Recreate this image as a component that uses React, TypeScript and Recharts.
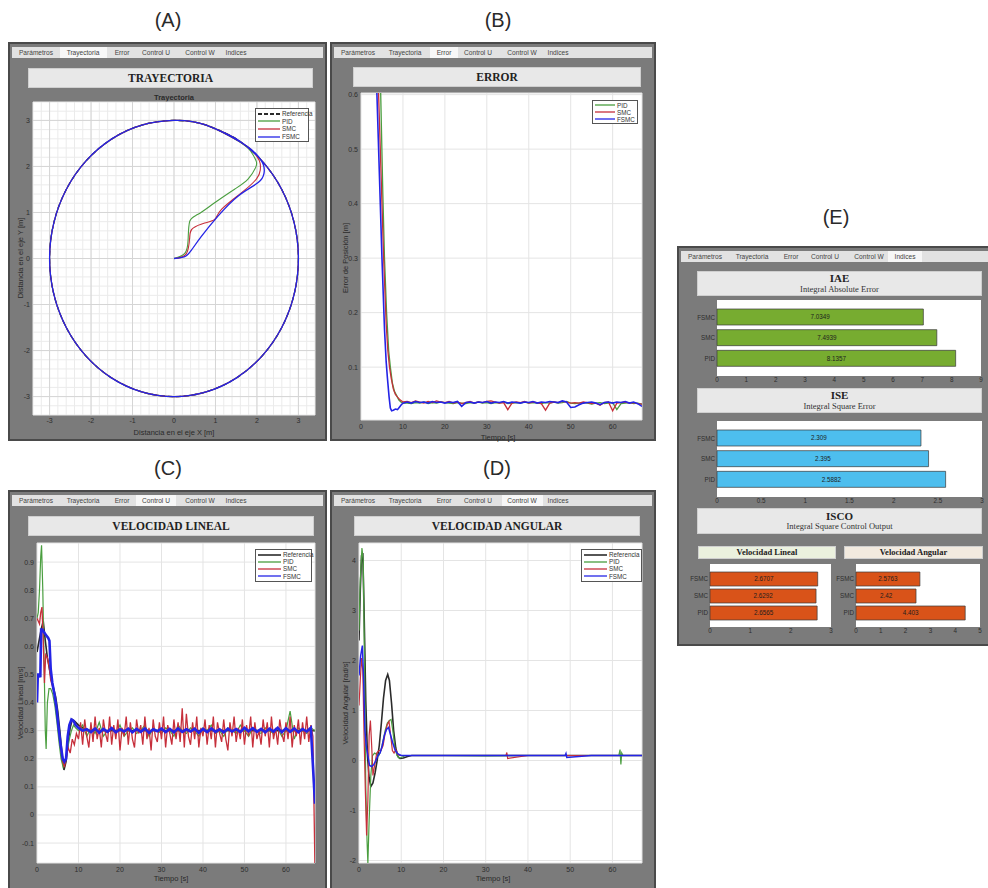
import React from 'react'
import { Bar, BarChart, CartesianGrid, LabelList, Line, LineChart, ReferenceLine, XAxis, YAxis } from 'recharts'

const REF = '#2b2b2b'
const PID = '#4a9e3f'
const SMC = '#c62f3b'
const FSMC = '#2424e6'
const PANEL = '#7b7b7b'
const SANS = '"Liberation Sans", Arial, sans-serif'
const SERIF = '"Liberation Serif", "Times New Roman", serif'

const TABS = ['Parámetros', 'Trayectoria', 'Error', 'Control U', 'Control W', 'Indices']

// ---------- (A) trayectoria
const ticksA = [-3.4, -3.2, -3, -2.8, -2.6, -2.4, -2.2, -2, -1.8, -1.6, -1.4, -1.2, -1, -0.8, -0.6, -0.4, -0.2, 0,
  0.2, 0.4, 0.6, 0.8, 1, 1.2, 1.4, 1.6, 1.8, 2, 2.2, 2.4, 2.6, 2.8, 3, 3.2, 3.4]
const majorA = [-3, -2, -1, 0, 1, 2, 3]

const refCircle: [number, number][] = [
  [1.5, 2.598], [0.776, 2.898], [0, 3], [-0.776, 2.898], [-1.5, 2.598], [-2.121, 2.121], [-2.598, 1.5],
  [-2.898, 0.776], [-3, 0], [-2.898, -0.776], [-2.598, -1.5], [-2.121, -2.121], [-1.5, -2.598], [-0.776, -2.898],
  [0, -3], [0.776, -2.898], [1.5, -2.598], [2.121, -2.121], [2.598, -1.5], [2.898, -0.776], [3, 0],
  [2.898, 0.776], [2.598, 1.5], [2.121, 2.121], [1.5, 2.598], [0.776, 2.898],
]
const pidPath: [number, number][] = [
  [0, 0], [0.26, 0.11], [0.34, 0.4], [0.38, 0.81], [0.58, 0.96], [0.98, 1.21], [1.47, 1.51], [1.79, 1.73],
  [1.97, 1.98], [1.98, 2.12], [1.85, 2.33], [1.55, 2.55],
]
const smcPath: [number, number][] = [
  [0, 0], [0.3, 0.11], [0.38, 0.48], [0.46, 0.66], [0.74, 0.77], [0.98, 0.85], [1.15, 1.07], [1.63, 1.43],
  [1.99, 1.73], [2.08, 1.92], [2.06, 2.12], [1.9, 2.33], [1.58, 2.54],
]
const fsmcPath: [number, number][] = [
  [0, 0], [0.26, 0.04], [0.42, 0.18], [0.66, 0.48], [1.06, 0.92], [1.55, 1.36], [2.03, 1.65], [2.17, 1.85],
  [2.15, 2.05], [1.97, 2.28], [1.62, 2.52],
]

// ---------- (B) error
const errTicksX = [0, 10, 20, 30, 40, 50, 60]
const errTicksY = [0.1, 0.2, 0.3, 0.4, 0.5, 0.6]
const errPidT = [0, 1, 2, 3, 4.7, 5.2, 5.6, 6.1, 6.6, 7.0, 7.5, 8.0, 8.5, 9.0, 9.5, 10]
const errPidV = [2.9, 2.1, 1.5, 1.05, 0.6, 0.42, 0.3, 0.2, 0.13, 0.1, 0.07, 0.055, 0.048, 0.04, 0.036, 0.034]
const errPidSteady = [
  0.034, 0.033, 0.035, 0.034, 0.036, 0.033, 0.035, 0.034, 0.036, 0.035,
  0.034, 0.033, 0.035, 0.034, 0.033, 0.035, 0.034, 0.036, 0.034, 0.035,
  0.033, 0.035, 0.034, 0.036, 0.033, 0.034, 0.035, 0.034, 0.036, 0.034,
  0.035, 0.034, 0.033, 0.035, 0.034, 0.036, 0.034, 0.035, 0.037, 0.034,
  0.033, 0.034, 0.035, 0.034, 0.032, 0.034, 0.035, 0.033, 0.034, 0.035,
  0.022, 0.033, 0.034, 0.035, 0.033, 0.034, 0.032,
]
const errSmcT = [0, 1, 2, 3, 4.2, 4.8, 5.4, 6.0, 6.4, 6.8, 7.2, 7.7, 8.2, 8.7, 9.3, 10]
const errSmcV = [2.9, 2.0, 1.4, 0.95, 0.6, 0.45, 0.3, 0.18, 0.13, 0.1, 0.08, 0.06, 0.05, 0.045, 0.04, 0.036]
const errSmcSteady = [
  0.037, 0.035, 0.038, 0.036, 0.034, 0.037, 0.035, 0.038, 0.036, 0.035,
  0.037, 0.034, 0.036, 0.033, 0.035, 0.037, 0.034, 0.036, 0.035, 0.037,
  0.038, 0.036, 0.034, 0.035, 0.022, 0.034, 0.036, 0.035, 0.037, 0.034,
  0.036, 0.035, 0.033, 0.021, 0.034, 0.036, 0.035, 0.037, 0.036, 0.034,
  0.035, 0.034, 0.036, 0.035, 0.033, 0.034, 0.030, 0.035, 0.036, 0.020,
  0.034, 0.035, 0.036, 0.034, 0.035, 0.033, 0.032,
]
const errFsmcT = [0, 1, 2, 3, 3.8, 4.4, 5.0, 5.6, 6.0, 6.3, 6.7, 7.0, 7.3, 7.7, 8.2, 8.7, 9.2, 9.6, 10]
const errFsmcV = [2.9, 1.9, 1.3, 0.85, 0.6, 0.45, 0.3, 0.17, 0.11, 0.08, 0.045, 0.025, 0.02, 0.021, 0.023, 0.022,
  0.027, 0.031, 0.034]
const errFsmcSteady = [
  0.036, 0.034, 0.037, 0.035, 0.036, 0.034, 0.037, 0.035, 0.036, 0.034,
  0.036, 0.035, 0.037, 0.028, 0.035, 0.036, 0.034, 0.036, 0.035, 0.037,
  0.034, 0.036, 0.035, 0.037, 0.034, 0.036, 0.035, 0.034, 0.036, 0.035,
  0.037, 0.034, 0.036, 0.035, 0.037, 0.036, 0.035, 0.038, 0.036, 0.026,
  0.027, 0.031, 0.034, 0.035, 0.036, 0.034, 0.031, 0.035, 0.036, 0.034,
  0.036, 0.035, 0.037, 0.034, 0.036, 0.033, 0.028,
]

// ---------- (C) velocidad lineal
const linTicksY = [-0.1, 0, 0.1, 0.2, 0.3, 0.4, 0.5, 0.6, 0.7, 0.8, 0.9]
const linRefT = [0, 0.5, 1, 1.5, 2, 2.5, 3, 3.5, 4, 4.5, 5, 5.5, 6, 6.5, 7, 7.5, 8, 8.5, 9, 10, 11, 12, 20, 30, 40, 50, 60, 67]
const linRefV = [0.58, 0.62, 0.66, 0.69, 0.62, 0.56, 0.52, 0.48, 0.45, 0.42, 0.37, 0.3, 0.22, 0.16, 0.19, 0.26, 0.31,
  0.34, 0.335, 0.32, 0.31, 0.3, 0.3, 0.3, 0.3, 0.3, 0.3, 0.3]
const linPidT = [0, 0.3, 0.6, 0.9, 1.1, 1.4, 1.7, 2.0, 2.2, 2.5, 2.9, 3.3, 3.8, 4.3, 4.8, 5.3, 5.8, 6.3, 6.8, 7.3, 7.8, 8.3, 8.8, 9.3]
const linPidV = [0.7, 0.72, 0.8, 0.92, 0.96, 0.8, 0.55, 0.3, 0.235, 0.4, 0.45, 0.45, 0.43, 0.39, 0.33, 0.26, 0.2,
  0.17, 0.19, 0.23, 0.27, 0.3, 0.32, 0.31]
const linPidSteady = [
  0.3, 0.32, 0.28, 0.31, 0.29, 0.33, 0.28, 0.3, 0.31, 0.29,
  0.32, 0.28, 0.3, 0.31, 0.29, 0.3, 0.32, 0.28, 0.31, 0.3,
  0.29, 0.31, 0.3, 0.28, 0.32, 0.3, 0.29, 0.31, 0.3, 0.28,
  0.31, 0.3, 0.32, 0.29, 0.3, 0.28, 0.31, 0.3, 0.29, 0.32,
  0.3, 0.28, 0.31, 0.3, 0.29, 0.31, 0.3, 0.29, 0.31, 0.28,
  0.3, 0.37, 0.27, 0.31, 0.3, 0.29, 0.31, 0.3,
]
const linSmcT = [0, 0.3, 0.6, 0.9, 1.2, 1.5, 1.8, 2.1, 2.5, 2.9, 3.3, 3.7, 4.2, 4.7, 5.2, 5.7, 6.2, 6.6, 7.0, 7.5, 8.0, 8.5, 9.0, 9.5]
const linSmcV = [0.7, 0.69, 0.68, 0.72, 0.74, 0.62, 0.47, 0.57, 0.56, 0.53, 0.48, 0.46, 0.43, 0.38, 0.31, 0.24, 0.19,
  0.17, 0.2, 0.24, 0.22, 0.27, 0.25, 0.29]
const linSmcSteady = [
  0.27, 0.33, 0.25, 0.34, 0.28, 0.24, 0.33, 0.26, 0.35, 0.27,
  0.31, 0.24, 0.34, 0.29, 0.26, 0.35, 0.25, 0.32, 0.27, 0.34,
  0.23, 0.31, 0.28, 0.35, 0.25, 0.33, 0.27, 0.24, 0.34, 0.29,
  0.32, 0.25, 0.35, 0.27, 0.31, 0.23, 0.34, 0.28, 0.26, 0.33,
  0.27, 0.35, 0.24, 0.32, 0.29, 0.25, 0.34, 0.27, 0.33, 0.26,
  0.38, 0.24, 0.36, 0.28, 0.25, 0.33, 0.27, 0.35, 0.24, 0.31,
  0.28, 0.34, 0.25, 0.32, 0.27, 0.35, 0.24, 0.33, 0.29, 0.26,
  0.34, 0.27, 0.23, 0.33, 0.28, 0.35, 0.26, 0.31, 0.27, 0.34,
  0.25, 0.32, 0.28, 0.35, 0.24, 0.33, 0.27, 0.3, 0.25, 0.34,
  0.28, 0.33, 0.24, 0.35, 0.27, 0.31, 0.25, 0.34, 0.29, 0.26,
  0.33, 0.27, 0.35, 0.24, 0.32, 0.28, 0.34, 0.25, 0.33, 0.27,
  0.35, 0.26, 0.32, 0.28,
]
const linSmcEnd = -0.2
const linFsmcT = [0, 0.2, 0.5, 0.8, 1.0, 1.3, 1.7, 2.2, 2.7, 3.0, 3.3, 3.7, 4.2, 4.7, 5.2, 5.7, 6.2, 6.6, 7.0, 7.4, 7.8,
  8.3, 8.8, 9.3, 10, 11]
const linFsmcV = [0.4, 0.5, 0.5, 0.49, 0.66, 0.66, 0.65, 0.64, 0.63, 0.62, 0.52, 0.47, 0.43, 0.38, 0.31, 0.25, 0.2,
  0.19, 0.2, 0.28, 0.32, 0.34, 0.335, 0.32, 0.31, 0.3]
const linFsmcSteady = [
  0.305, 0.295, 0.308, 0.293, 0.306, 0.296, 0.309, 0.294, 0.305, 0.297,
  0.307, 0.294, 0.306, 0.296, 0.308, 0.293, 0.305, 0.298, 0.307, 0.295,
  0.306, 0.294, 0.308, 0.296, 0.305, 0.297, 0.307, 0.293, 0.306, 0.295,
  0.308, 0.296, 0.305, 0.294, 0.307, 0.297, 0.306, 0.295, 0.31, 0.298,
  0.309, 0.296, 0.306, 0.294, 0.307, 0.297, 0.31, 0.295, 0.309, 0.296,
  0.308, 0.294, 0.306, 0.297, 0.31,
]
const linFsmcEnd = 0.04

// ---------- (D) velocidad angular
const angTicksY = [-2, -1, 0, 1, 2, 3, 4]
const angRefT = [0, 0.3, 0.6, 0.9, 1.2, 1.6, 2.0, 2.4, 2.8, 3.3, 3.8, 4.3, 4.8, 5.3, 5.8, 6.3, 6.8, 7.2, 7.7, 8.2,
  8.7, 9.2, 9.7, 10.5, 11.5, 12.5, 20, 30, 35, 40, 50, 60, 67]
const angRefV = [2.4, 3.4, 4.1, 4.15, 3.0, 1.2, 0.1, -0.35, -0.52, -0.45, -0.25, 0.0, 0.3, 0.75, 1.25, 1.6, 1.72, 1.6,
  1.15, 0.6, 0.25, 0.08, 0.04, 0.05, 0.08, 0.1, 0.1, 0.1, 0.1, 0.1, 0.1, 0.1, 0.1]
const angPidT = [0, 0.3, 0.7, 1.0, 1.3, 1.6, 1.9, 2.1, 2.4, 2.8, 3.2, 3.7, 4.2, 4.7, 5.2, 5.7, 6.2, 6.7, 7.2, 7.6,
  8.0, 8.5, 9.0, 9.5, 10, 11, 20, 30, 40, 50, 61.5, 61.8, 62, 62.2, 62.5, 67]
const angPidV = [2.6, 3.6, 4.25, 4.0, 2.0, -0.5, -1.6, -2.05, -1.2, -0.3, 0.1, 0.15, 0.12, 0.1, 0.2, 0.4, 0.6, 0.75,
  0.8, 0.82, 0.6, 0.25, 0.1, 0.05, 0.06, 0.1, 0.1, 0.09, 0.1, 0.1, 0.1, 0.22, -0.08, 0.15, 0.1, 0.1]
const angSmcT = [0, 0.3, 0.6, 0.9, 1.2, 1.5, 1.8, 2.1, 2.4, 2.7, 3.0, 3.3, 3.7, 4.2, 4.7, 5.2, 5.7, 6.2, 6.7, 7.1,
  7.5, 7.9, 8.3, 8.7, 9.2, 9.7, 10.5, 20, 30, 34.8, 35, 35.2, 40, 50, 60, 67]
const angSmcV = [1.1, 1.6, 2.05, 1.8, 0.5, -0.6, -1.5, -0.8, 0.5, 0.8, 0.3, -0.3, -0.1, 0.15, 0.2, 0.2, 0.3, 0.55,
  0.72, 0.78, 0.5, 0.2, 0.15, 0.22, 0.12, 0.1, 0.1, 0.1, 0.1, 0.1, 0.16, 0.04, 0.1, 0.1, 0.1, 0.1]
const angFsmcT = [0, 0.4, 0.8, 1.1, 1.4, 1.7, 2.0, 2.5, 3.0, 3.5, 4.0, 4.5, 5.0, 5.5, 6.0, 6.5, 7.0, 7.5, 8.0, 8.5,
  9.0, 9.5, 10, 11, 20, 30, 40, 48.8, 49, 49.2, 55, 60, 67]
const angFsmcV = [1.7, 2.1, 2.3, 1.6, 0.6, 0.3, 0.15, -0.1, -0.12, -0.08, 0.0, 0.1, 0.15, 0.3, 0.5, 0.62, 0.66, 0.5,
  0.35, 0.22, 0.15, 0.12, 0.1, 0.1, 0.1, 0.1, 0.1, 0.1, 0.14, 0.06, 0.1, 0.1, 0.1]

// ---------- (E) indices
const controllers = ['FSMC', 'SMC', 'PID']
const iae = [7.0349, 7.4939, 8.1357]
const ise = [2.309, 2.395, 2.5882]
const iscoLineal = [2.6707, 2.6292, 2.6565]
const iscoAngular = [2.5763, 2.42, 4.403]
const iaeTicks = [0, 1, 2, 3, 4, 5, 6, 7, 8, 9]
const iseTicks = [0, 0.5, 1, 1.5, 2, 2.5, 3]
const linTicksIdx = [0, 1, 2, 3]
const angTicksIdx = [0, 1, 2, 3, 4, 5]

// sample grid of the logged signals
const samples = (start: number, step: number, n: number) =>
  Array.from({ length: n }, (_, i) => Math.round((start + i * step) * 100) / 100)

const zip = (t: number[], v: number[]) => t.map((x, i) => ({ t: x, v: v[i] }))
const xy = (pts: [number, number][]) => pts.map(([x, y]) => ({ x, y }))

const errPid = zip([...errPidT, ...samples(11, 1, 57)], [...errPidV, ...errPidSteady])
const errSmc = zip([...errSmcT, ...samples(11, 1, 57)], [...errSmcV, ...errSmcSteady])
const errFsmc = zip([...errFsmcT, ...samples(11, 1, 57)], [...errFsmcV, ...errFsmcSteady])

const linRef = zip(linRefT, linRefV)
const linPid = zip([...linPidT, ...samples(10, 1, 58)], [...linPidV, ...linPidSteady])
const linSmc = zip([...linSmcT, ...samples(10, 0.5, 114), 67], [...linSmcV, ...linSmcSteady, linSmcEnd])
const linFsmc = zip([...linFsmcT, ...samples(12, 1, 55), 67], [...linFsmcV, ...linFsmcSteady, linFsmcEnd])

const angRef = zip(angRefT, angRefV)
const angPid = zip(angPidT, angPidV)
const angSmc = zip(angSmcT, angSmcV)
const angFsmc = zip(angFsmcT, angFsmcV)

const tick = { fontSize: 7, fill: '#2e2e2e', fontFamily: SANS }

function Frame({ x, y, w, h, active }: { x: number; y: number; w: number; h: number; active: number }) {
  const centers = [26, 73, 112, 146, 190, 226]
  const widths = [42, 47, 28, 40, 41, 34]
  return (
    <div style={{ position: 'absolute', left: x, top: y, width: w, height: h, background: PANEL, border: '2px solid #4a4a4a', boxSizing: 'border-box' }}>
      <div style={{ position: 'absolute', left: 2, top: 3, right: 2, height: 11, background: '#e2e2e2' }}>
        {TABS.map((t, i) => (
          <div key={t} style={{ position: 'absolute', left: centers[i] - widths[i] / 2 - 2, top: 0, width: widths[i], height: 11, lineHeight: '11px', textAlign: 'center', fontSize: 6.6, color: '#444', fontFamily: SANS, background: i === active ? '#f7f7f7' : 'transparent' }}>{t}</div>
        ))}
      </div>
    </div>
  )
}

function TitleBox({ x1, y1, x2, y2, text, sub, size = 11.5, bg = '#e8e8e8' }: { x1: number; y1: number; x2: number; y2: number; text: string; sub?: string; size?: number; bg?: string }) {
  return (
    <div style={{ position: 'absolute', left: x1, top: y1, width: x2 - x1, height: y2 - y1, background: bg, border: '1px solid #cfcfcf', boxSizing: 'border-box', display: 'flex', flexDirection: 'column', alignItems: 'center', justifyContent: 'center', fontFamily: SERIF, color: '#222', lineHeight: 1.05 }}>
      <div style={{ fontWeight: 'bold', fontSize: size }}>{text}</div>
      {sub && <div style={{ fontSize: 8.5, color: '#333' }}>{sub}</div>}
    </div>
  )
}

function Text({ x, y, text, size = 7.5, rotate = false, bold = false, family = SANS }: { x: number; y: number; text: string; size?: number; rotate?: boolean; bold?: boolean; family?: string }) {
  return (
    <div style={{ position: 'absolute', left: x, top: y, transform: `translate(-50%, -50%)${rotate ? ' rotate(-90deg)' : ''}`, whiteSpace: 'nowrap', fontSize: size, color: '#2a2a2a', fontFamily: family, fontWeight: bold ? 'bold' : 'normal' }}>{text}</div>
  )
}

type Item = { name: string; color: string; dash?: boolean; w?: number }
function MiniLegend({ x, y, w, row, line, items }: { x: number; y: number; w: number; row: number; line: number; items: Item[] }) {
  return (
    <div style={{ position: 'absolute', left: x, top: y, width: w, background: '#fff', border: '1px solid #555', boxSizing: 'border-box', padding: '1px 2px' }}>
      {items.map((it) => (
        <div key={it.name} style={{ display: 'flex', alignItems: 'center', height: row, fontSize: 6.3, color: '#333', fontFamily: SANS }}>
          <svg width={line} height={4} style={{ marginRight: 2, flex: 'none' }}>
            <line x1={0} y1={2} x2={line} y2={2} stroke={it.color} strokeWidth={it.w ?? 1.3} strokeDasharray={it.dash ? '4 2' : undefined} />
          </svg>
          <span>{it.name}</span>
        </div>
      ))}
    </div>
  )
}

const isMajor = (v: number) => Math.abs(v - Math.round(v)) < 1e-6

function TrajectoryChart() {
  const loop = refCircle.slice(1)
  const series = [
    { key: 'ref', data: xy(refCircle), color: REF, dash: '5 3', w: 1.3 },
    { key: 'pid', data: xy([...pidPath, ...loop]), color: PID, w: 1.1 },
    { key: 'smc', data: xy([...smcPath, ...loop]), color: SMC, w: 1.1 },
    { key: 'fsmc', data: xy([...fsmcPath, ...loop]), color: FSMC, w: 1.3 },
  ]
  return (
    <div style={{ position: 'absolute', left: 10, top: 90 }}>
      <LineChart width={311} height={348} margin={{ top: 12, right: 6, bottom: 0, left: 0 }}>
        <CartesianGrid fill="#fff" stroke="#ebebeb" />
        <XAxis type="number" dataKey="x" domain={[-3.4, 3.4]} ticks={ticksA} interval={0} allowDataOverflow
          tickFormatter={(v: number) => (isMajor(v) ? String(Math.round(v)) : '')} height={23}
          axisLine={false} tickLine={false} tickSize={2} tick={tick} tickMargin={1} />
        <YAxis type="number" dataKey="y" domain={[-3.4, 3.4]} ticks={ticksA} interval={0} allowDataOverflow
          tickFormatter={(v: number) => (isMajor(v) ? String(Math.round(v)) : '')} width={23}
          axisLine={false} tickLine={false} tickSize={2} tick={tick} tickMargin={1} />
        {majorA.map((m) => <ReferenceLine key={`vx${m}`} x={m} stroke="#d5d5d5" />)}
        {majorA.map((m) => <ReferenceLine key={`hy${m}`} y={m} stroke="#d5d5d5" />)}
        {series.map((s) => (
          <Line key={s.key} data={s.data} dataKey="y" type="natural" stroke={s.color} strokeWidth={s.w}
            strokeDasharray={s.dash} dot={false} isAnimationActive={false} />
        ))}
      </LineChart>
    </div>
  )
}

type S = { key: string; data: { t: number; v: number }[]; color: string; w: number }
function TimeChart({ x, y, w, h, yw, right, domain, ticksY, series }: { x: number; y: number; w: number; h: number; yw: number; right: number; domain: [number, number]; ticksY: number[]; series: S[] }) {
  return (
    <div style={{ position: 'absolute', left: x, top: y }}>
      <LineChart width={w} height={h} margin={{ top: 5, right, bottom: 0, left: 0 }}>
        <CartesianGrid fill="#fff" stroke="#e4e4e4" />
        <XAxis type="number" dataKey="t" domain={[0, 67]} ticks={errTicksX} interval={0} allowDataOverflow height={23}
          axisLine={false} tickLine={false} tickSize={3} tickMargin={1} tick={tick} />
        <YAxis type="number" dataKey="v" domain={domain} ticks={ticksY} interval={0} allowDataOverflow width={yw}
          axisLine={false} tickLine={false} tickSize={2} tickMargin={1} tick={tick} />
        {series.map((s) => (
          <Line key={s.key} data={s.data} dataKey="v" type="linear" stroke={s.color} strokeWidth={s.w}
            dot={false} isAnimationActive={false} />
        ))}
      </LineChart>
    </div>
  )
}

function IndexBars({ x, y, w, h, yw, values, color, max, ticks, barSize, pad }: { x: number; y: number; w: number; h: number; yw: number; values: number[]; color: string; max: number; ticks: number[]; barSize: number; pad: number }) {
  const data = controllers.map((name, i) => ({ name, v: values[i] }))
  return (
    <div style={{ position: 'absolute', left: x, top: y }}>
      <BarChart layout="vertical" width={w} height={h} data={data} margin={{ top: 2, right: 4, bottom: 0, left: 0 }}>
        <CartesianGrid fill="#fff" horizontal={false} vertical={false} />
        <XAxis type="number" domain={[0, max]} ticks={ticks} interval={0} height={h === 80 ? 15 : 12}
          axisLine={false} tickLine={false} tickSize={1} tickMargin={1} tick={{ ...tick, fontSize: 6.3 }} />
        <YAxis type="category" dataKey="name" width={yw} padding={{ top: pad, bottom: pad }}
          axisLine={false} tickLine={false} tickSize={1} tickMargin={1} tick={{ ...tick, fontSize: 6.3 }} />
        <Bar dataKey="v" fill={color} stroke="#3a3a3a" strokeWidth={0.7} barSize={barSize} isAnimationActive={false}>
          <LabelList dataKey="v" position="center" fontSize={6.3} fill="#1e1e1e" fontFamily={SANS} />
        </Bar>
      </BarChart>
    </div>
  )
}

const legend4: Item[] = [
  { name: 'Referencia', color: REF, w: 1.6 },
  { name: 'PID', color: PID },
  { name: 'SMC', color: SMC },
  { name: 'FSMC', color: FSMC },
]

export default function App() {
  return (
    <div style={{ position: 'absolute', left: 0, top: 0, width: 988, height: 888, background: '#fff', overflow: 'hidden', fontFamily: SANS }}>
      <Text x={168} y={20} text="(A)" size={20} />
      <Text x={498} y={20} text="(B)" size={20} />
      <Text x={168} y={468} text="(C)" size={20} />
      <Text x={497} y={468} text="(D)" size={20} />
      <Text x={836} y={217} text="(E)" size={20} />

      {/* (A) */}
      <Frame x={8} y={42} w={319} h={399} active={1} />
      <TitleBox x1={28} y1={68} x2={313} y2={88} text="TRAYECTORIA" />
      <Text x={174} y={97} text="Trayectoria" size={7.5} bold />
      <TrajectoryChart />
      <Text x={20} y={258} text="Distancia en el eje Y  [m]" rotate />
      <Text x={174} y={432} text="Distancia en el eje X  [m]" />
      <MiniLegend x={255} y={108} w={54} row={7.6} line={22} items={[{ name: 'Referencia', color: REF, dash: true, w: 1.8 }, ...legend4.slice(1)]} />

      {/* (B) */}
      <Frame x={330} y={42} w={326} h={399} active={2} />
      <TitleBox x1={353} y1={67} x2={641} y2={87} text="ERROR" />
      <TimeChart x={335} y={88} w={315} h={355} yw={26} right={8} domain={[0.003, 0.603]} ticksY={errTicksY}
        series={[
          { key: 'pid', data: errPid, color: PID, w: 1.3 },
          { key: 'smc', data: errSmc, color: SMC, w: 1.3 },
          { key: 'fsmc', data: errFsmc, color: FSMC, w: 1.6 },
        ]} />
      <Text x={345} y={258} text="Error de Posición [m]" rotate />
      <Text x={498} y={437} text="Tiempo [s]" />
      <MiniLegend x={592} y={100} w={46} row={6.8} line={20} items={legend4.slice(1)} />

      {/* (C) */}
      <Frame x={8} y={490} w={319} h={402} active={3} />
      <TitleBox x1={28} y1={516} x2={314} y2={536} text="VELOCIDAD LINEAL" />
      <TimeChart x={12} y={538} w={309} h={348} yw={25} right={6} domain={[-0.171, 0.968]} ticksY={linTicksY}
        series={[
          { key: 'ref', data: linRef, color: REF, w: 1.6 },
          { key: 'pid', data: linPid, color: PID, w: 1.2 },
          { key: 'smc', data: linSmc, color: SMC, w: 1.3 },
          { key: 'fsmc', data: linFsmc, color: FSMC, w: 2.6 },
        ]} />
      <Text x={20} y={703} text="Velocidad Lineal [m/s]" rotate />
      <Text x={171} y={878} text="Tiempo  [s]" />
      <MiniLegend x={255} y={549} w={57} row={7.2} line={23} items={legend4} />

      {/* (D) */}
      <Frame x={330} y={490} w={326} h={402} active={4} />
      <TitleBox x1={354} y1={516} x2={640} y2={536} text="VELOCIDAD ANGULAR" />
      <TimeChart x={335} y={538} w={315} h={348} yw={24} right={8} domain={[-2.05, 4.35]} ticksY={angTicksY}
        series={[
          { key: 'ref', data: angRef, color: REF, w: 1.6 },
          { key: 'pid', data: angPid, color: PID, w: 1.2 },
          { key: 'smc', data: angSmc, color: SMC, w: 1.2 },
          { key: 'fsmc', data: angFsmc, color: FSMC, w: 1.5 },
        ]} />
      <Text x={345} y={703} text="Velocidad Angular [rad/s]" rotate />
      <Text x={493} y={878} text="Tiempo  [s]" />
      <MiniLegend x={581} y={549} w={61} row={7.2} line={23} items={legend4} />

      {/* (E) */}
      <Frame x={677} y={246} w={315} h={400} active={5} />
      <TitleBox x1={697} y1={271} x2={982} y2={296} text="IAE" sub="Integral Absolute Error" size={11} />
      <IndexBars x={690} y={298} w={295} h={90} yw={27} values={iae} color="#77ac30" max={9} ticks={iaeTicks} barSize={16} pad={7} />
      <TitleBox x1={697} y1={388} x2={982} y2={413} text="ISE" sub="Integral Square Error" size={11} />
      <IndexBars x={690} y={419} w={296} h={90} yw={27} values={ise} color="#4dbeee" max={3} ticks={iseTicks} barSize={16} pad={7} />
      <TitleBox x1={697} y1={508} x2={982} y2={534} text="ISCO" sub="Integral Square Control Output" size={11} />
      <TitleBox x1={698} y1={546} x2={836} y2={559} text="Velocidad Lineal" size={8.5} bg="#ebf1de" />
      <TitleBox x1={844} y1={546} x2={983} y2={559} text="Velocidad Angular" size={8.5} bg="#f2eadf" />
      <IndexBars x={686} y={562} w={149} h={80} yw={24} values={iscoLineal} color="#d95319" max={3} ticks={linTicksIdx} barSize={14} pad={6} />
      <IndexBars x={833} y={562} w={151} h={80} yw={23} values={iscoAngular} color="#d95319" max={5} ticks={angTicksIdx} barSize={14} pad={6} />
    </div>
  )
}
